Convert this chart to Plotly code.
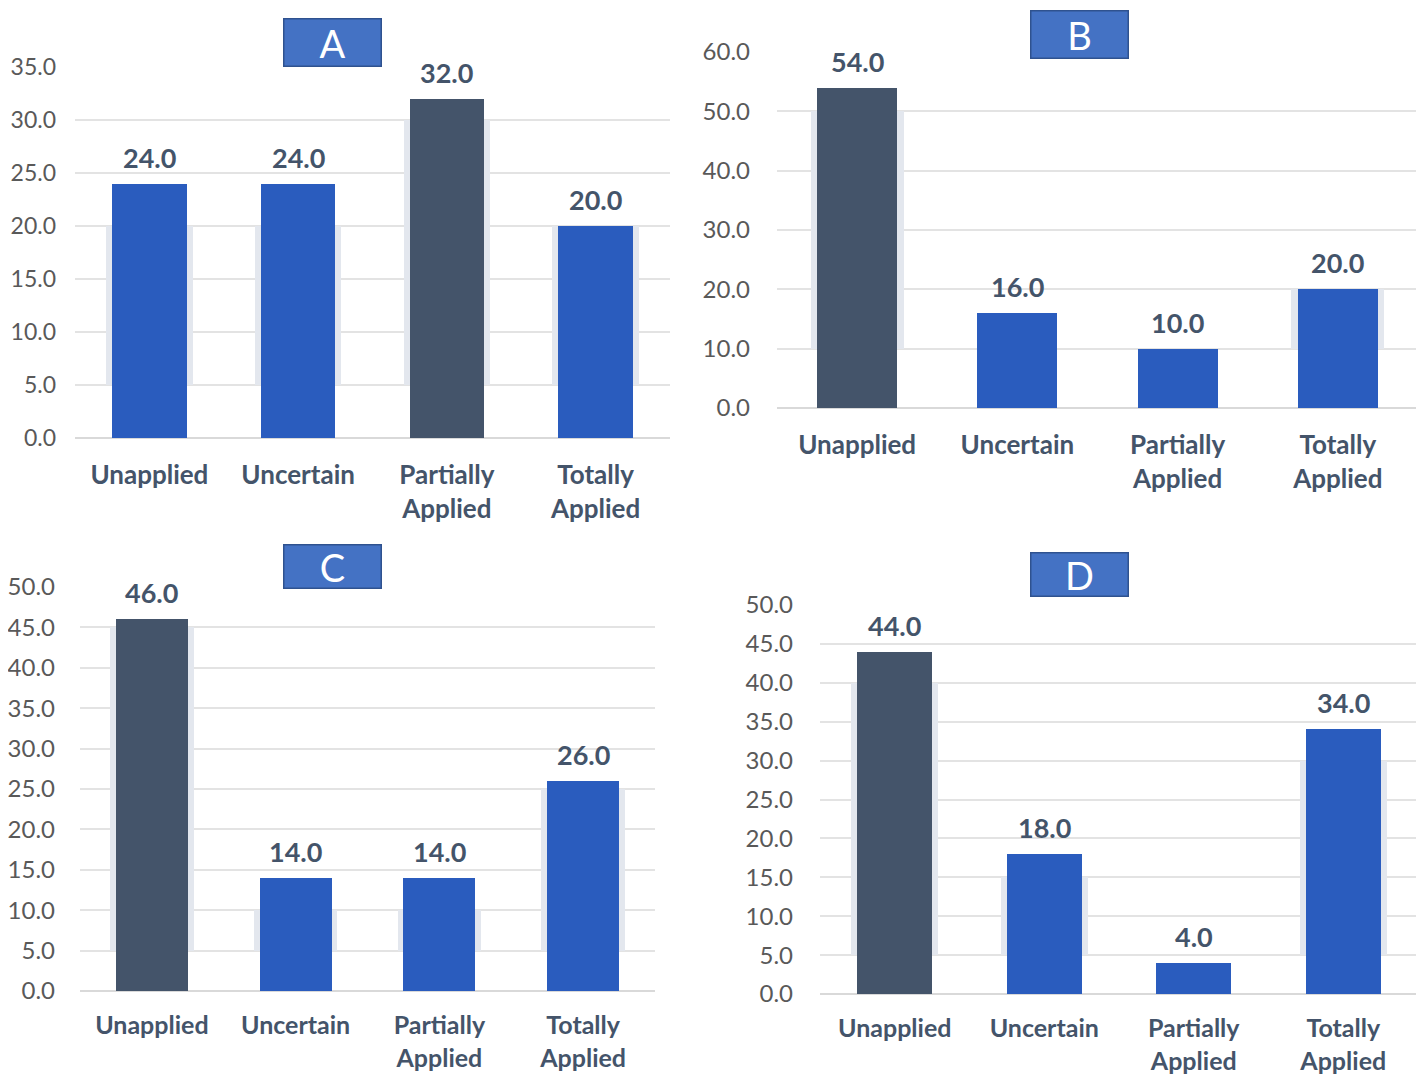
import math
import plotly.graph_objects as go

categories = ["Unapplied", "Uncertain", "Partially Applied", "Totally Applied"]
values_a = [24.0, 24.0, 32.0, 20.0]
values_b = [54.0, 16.0, 10.0, 20.0]
values_c = [46.0, 14.0, 14.0, 26.0]
values_d = [44.0, 18.0, 4.0, 34.0]
panel_titles = ["A", "B", "C", "D"]
axis_max = [35, 60, 50, 50]
axis_step = [5, 10, 5, 5]

W, H = 1424, 1076
OFF = 8  # page body margin compensation
# pixel layout of each panel: x0, x1 of plot area, y pixel of zero, y pixel of max; title box
panels = [
    dict(vals=values_a, x0=75, x1=670, ybot=438, ytop=67, box=(283, 382, 18, 67),
         yfont=23, ystand=18, xfont=26, xstand=19),
    dict(vals=values_b, x0=777, x1=1418, ybot=408, ytop=52, box=(1030, 1129, 10, 59),
         yfont=24, ystand=26, xfont=26, xstand=19),
    dict(vals=values_c, x0=80, x1=655, ybot=991, ytop=587, box=(283, 382, 544, 589),
         yfont=24, ystand=24, xfont=25, xstand=17),
    dict(vals=values_d, x0=820, x1=1418, ybot=994, ytop=605, box=(1030, 1129, 552, 597),
         yfont=24, ystand=26, xfont=25, xstand=17),
]

BLUE = "#2A5CBE"
DARK = "#44546A"
SHADOW = "#E3E7EE"
TICK_COLOR = "#595959"
FONT = "Lato"


def px_x(v):
    return (v - OFF) / W


def px_y(v):
    return 1 - (v - OFF) / H


fig = go.Figure()
ticktext = [c.replace(" ", "<br>") for c in categories]

for k, p in enumerate(panels):
    vals = p["vals"]
    step = axis_step[k]
    sfx = "" if k == 0 else str(k + 1)
    xa, ya = "x" + sfx, "y" + sfx
    vmax = max(vals)
    colors = [DARK if v == vmax else BLUE for v in vals]
    # soft shadow behind bars (from first gridline up to last gridline below top)
    sh_top = [math.floor(v / step) * step for v in vals]
    sh_h = [max(t - step, 0) for t in sh_top]
    fig.add_trace(go.Bar(
        x=categories, y=sh_h, base=[step] * len(vals), width=0.58,
        marker=dict(color=SHADOW, line=dict(width=0)),
        xaxis=xa, yaxis=ya, hoverinfo="skip", showlegend=False,
    ))
    fig.add_trace(go.Bar(
        x=categories, y=vals, width=0.5,
        marker=dict(color=colors, line=dict(width=0)),
        xaxis=xa, yaxis=ya, showlegend=False,
    ))
    for c, v in zip(categories, vals):
        fig.add_annotation(
            x=c, y=v, xref=xa, yref=ya, text=f"{v:.1f}", showarrow=False,
            xanchor="center", yanchor="bottom", yshift=8,
            font=dict(family=FONT, size=27, color=DARK, weight="bold"),
        )
    xdom = [px_x(p["x0"]), px_x(p["x1"])]
    ydom = [px_y(p["ybot"]), px_y(p["ytop"])]
    xkey = "xaxis" if k == 0 else f"xaxis{k+1}"
    ykey = "yaxis" if k == 0 else f"yaxis{k+1}"
    fig.update_layout(**{
        xkey: dict(domain=xdom, anchor=ya, type="category", automargin=False,
                   tickvals=categories, ticktext=ticktext,
                   tickfont=dict(family=FONT, size=p["xfont"], color=DARK, weight="bold"),
                   showgrid=False, showline=False, zeroline=False,
                   ticks="", ticklabelstandoff=p["xstand"], fixedrange=True),
        ykey: dict(domain=ydom, anchor=xa, range=[0, axis_max[k]], automargin=False,
                   tick0=0, dtick=step, tickformat=".1f",
                   showgrid=True, gridcolor="#E3E3E3", gridwidth=1.5,
                   zeroline=True, zerolinecolor="#D9D9D9", zerolinewidth=2,
                   showline=False, ticks="",
                   tickfont=dict(family=FONT, size=p["yfont"], color=TICK_COLOR),
                   ticklabelstandoff=p["ystand"], fixedrange=True),
    })
    bx0, bx1, by0, by1 = p["box"]
    fig.add_annotation(
        x=px_x((bx0 + bx1) / 2), y=px_y((by0 + by1) / 2),
        xref="paper", yref="paper", xanchor="center", yanchor="middle",
        text=panel_titles[k], showarrow=False,
        font=dict(family=FONT, size=38, color="white"),
        bgcolor="#4472C4", bordercolor="#2F528F", borderwidth=1.5, borderpad=0,
        width=bx1 - bx0 - 3, height=by1 - by0 - 3,
    )

fig.update_layout(
    width=W, height=H, margin=dict(l=0, r=0, t=0, b=0, autoexpand=False),
    barmode="overlay", plot_bgcolor="white", paper_bgcolor="white",
    showlegend=False, bargap=0, template="none",
)

fig.write_html("out.html")
